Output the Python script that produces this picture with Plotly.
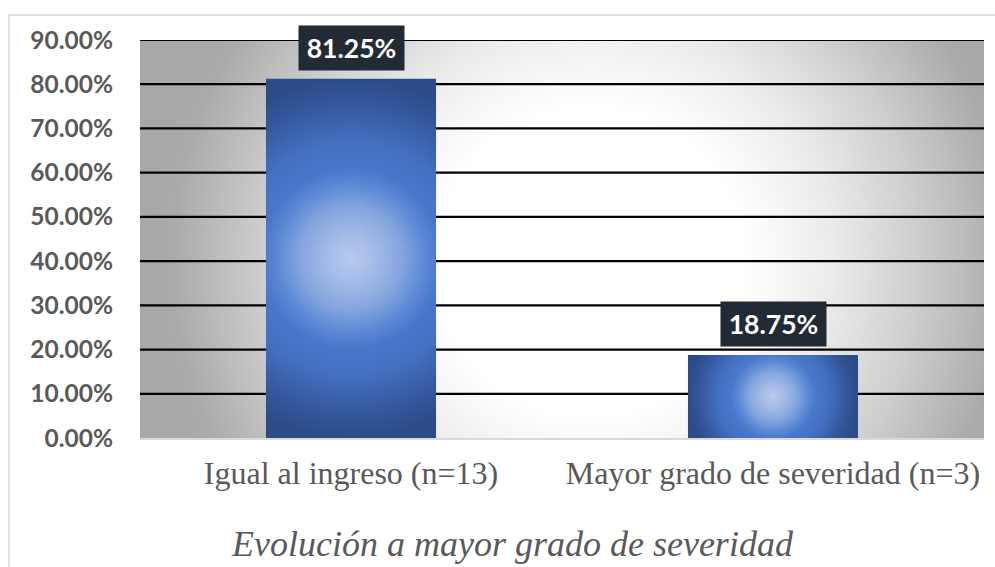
import plotly.graph_objects as go

# ---- data ----
categories = ["Igual al ingreso (n=13)", "Mayor grado de severidad (n=3)"]
values = [0.8125, 0.1875]
y_ticks = [0.0, 0.1, 0.2, 0.3, 0.4, 0.5, 0.6, 0.7, 0.8, 0.9]
axis_title = "Evolución a mayor grado de severidad"

# ---- layout geometry (pixels) ----
W, H = 995, 567
ML, MR, MT, MB = 140, 11, 40, 129
PW, PH = W - ML - MR, H - MT - MB
XR = [-0.5, len(categories) - 0.5]
YR = [0.0, 0.9]
px_per_x = PW / (XR[1] - XR[0])
px_per_y = PH / (YR[1] - YR[0])
bar_w = 0.403

gray = "#595959"
fig = go.Figure()

# background radial gradient (square bbox -> circular gradient), clipped to plot area
bg_cx, bg_cy, bg_R = 590, 262, 500  # px
k = 440 / bg_R
cx = XR[0] + (bg_cx - ML) / px_per_x
cy = YR[0] + (H - MB - bg_cy) / px_per_y
rx, ry = bg_R / px_per_x, bg_R / px_per_y
fig.add_trace(go.Scatter(
    x=[cx - rx, cx + rx, cx + rx, cx - rx, cx - rx],
    y=[cy - ry, cy - ry, cy + ry, cy + ry, cy - ry],
    mode="none", fill="toself", hoverinfo="skip", showlegend=False,
    fillgradient=dict(type="radial", colorscale=[
        [0, "#ffffff"], [0.35 * k, "#ffffff"], [0.55 * k, "#ebebeb"],
        [0.75 * k, "#cdcdcd"], [0.95 * k, "#aaaaaa"], [k, "#a8a8a8"], [1, "#a8a8a8"]]),
))

# gridlines (drawn above background, below bars)
gx, gy = [], []
for t in y_ticks[1:]:
    gx += [XR[0], XR[1], None]
    gy += [t, t, None]
fig.add_trace(go.Scatter(x=gx, y=gy, mode="lines", line=dict(color="#000000", width=2.2),
                         hoverinfo="skip", showlegend=False))

# bars as filled polygons with radial gradient
bar_scale = [[0, "#b8caec"], [0.15, "#a0b9e6"], [0.28, "#86a6df"], [0.4, "#5f8bd6"],
             [0.5, "#4977ca"], [0.65, "#4470c0"], [0.83, "#375ba2"], [1, "#2c4b88"]]
for i, v in enumerate(values):
    x0, x1 = i - bar_w / 2, i + bar_w / 2
    xc, yc = i, v / 2
    half_px = max(bar_w / 2 * px_per_x, v / 2 * px_per_y)
    Rx, Ry = half_px / px_per_x, half_px / px_per_y
    px = [x0, x0, xc - Rx, x0, x0, xc, xc, xc, x1, x1, xc + Rx, x1, x1, xc, xc, xc, x0]
    py = [0, yc, yc, yc, v, v, yc + Ry, v, v, yc, yc, yc, 0, 0, yc - Ry, 0, 0]
    fig.add_trace(go.Scatter(
        x=px, y=py, mode="none", fill="toself", hoverinfo="skip", showlegend=False,
        line=dict(simplify=False),
        fillgradient=dict(type="radial", colorscale=bar_scale),
    ))
    fig.add_annotation(x=i, y=v, xref="x", yref="y", text=f"{v:.2%}",
                       showarrow=False, yanchor="bottom", yshift=8,
                       bgcolor="#222a35", width=105, height=44, borderpad=0,
                       font=dict(family="Lato", size=26.5, color="#ffffff", weight="bold"))

# axis title
fig.add_annotation(x=(512 - ML) / PW, y=(H - MB - 544) / PH, xref="paper", yref="paper",
                   text=axis_title, showarrow=False, xanchor="center", yanchor="middle",
                   font=dict(family="Liberation Serif", size=36, color=gray, style="italic"))

# chart border
fig.add_shape(type="rect", xref="paper", yref="paper",
              x0=(9 - ML) / PW, x1=1.2, y0=-0.6, y1=(H - MB - 15) / PH,
              line=dict(color="#d9d9d9", width=1.5), fillcolor="rgba(0,0,0,0)", layer="below")

fig.update_layout(
    width=W, height=H, margin=dict(l=ML, r=MR, t=MT, b=MB),
    paper_bgcolor="#ffffff", plot_bgcolor="#ffffff", showlegend=False,
    xaxis=dict(range=XR, tickvals=list(range(len(categories))), ticktext=categories,
               showgrid=False, zeroline=False, showline=True, linecolor="#d9d9d9",
               linewidth=1.5, ticks="", ticklabelstandoff=6,
               tickfont=dict(family="Liberation Serif", size=32, color=gray)),
    yaxis=dict(range=YR, tickvals=y_ticks, tickformat=".2%", showgrid=False,
               zeroline=False, showline=False, ticks="", ticklabelstandoff=26,
               tickfont=dict(family="Lato", size=24.5, color=gray, weight="bold")),
)

fig.write_html("out.html", config={"displayModeBar": False},
               post_script="document.body.style.margin='0';")
